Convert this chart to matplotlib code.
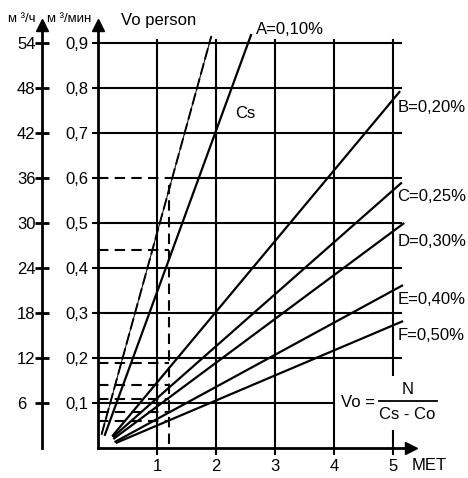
import matplotlib
matplotlib.use('Agg')
import matplotlib.pyplot as plt

plt.rcParams['font.family'] = ['Liberation Sans', 'DejaVu Sans']

# air volume per person, m3/min (left axis) vs metabolic rate, MET
met_ticks = [1, 2, 3, 4, 5]
vo_ticks = [0.1, 0.2, 0.3, 0.4, 0.5, 0.6, 0.7, 0.8, 0.9]
vo_labels = ['0,1', '0,2', '0,3', '0,4', '0,5', '0,6', '0,7', '0,8', '0,9']
vo_hour_ticks = [6, 12, 18, 24, 30, 36, 42, 48, 54]

# CO2 limit lines Cs: start/end points (MET, m3/min)
line_names = ['', 'A=0,10%', 'B=0,20%', 'C=0,25%', 'D=0,30%', 'E=0,40%', 'F=0,50%']
line_x0 = [0.06, 0.11, 0.24, 0.25, 0.26, 0.28, 0.30]
line_y0 = [0.030, 0.027, 0.026, 0.024, 0.020, 0.013, 0.011]
line_x1 = [1.92, 2.60, 5.12, 5.15, 5.19, 5.17, 5.17]
line_y1 = [0.915, 0.920, 0.793, 0.590, 0.500, 0.362, 0.282]
label_y = [None, 0.929, 0.756, 0.558, 0.458, 0.329, 0.251]

# reading at 1.2 MET
read_met = 1.2
read_vo = [0.6, 0.44, 0.19, 0.14, 0.11, 0.08, 0.06]

fs = 12

fig = plt.figure(figsize=(4.68, 4.78), dpi=100)
ax = fig.add_axes([98/468, 30/478, 312.7/468, 423/478])
ax.set_xlim(0, 5.3)
ax.set_ylim(0, 0.94)
for s in ['top', 'right']:
    ax.spines[s].set_visible(False)
for s in ['left', 'bottom']:
    ax.spines[s].set_linewidth(2)

ax.set_yticks(vo_ticks)
ax.set_yticklabels(vo_labels)
ax.tick_params(axis='y', direction='out', length=4, width=1.5, pad=3, labelsize=fs)
ax.set_xticks(met_ticks)
ax.set_xticklabels([str(m) for m in met_ticks])
ax.tick_params(axis='x', direction='out', length=5, width=1.5, pad=3, labelsize=fs)

lw = 1.5
# grid
for v in vo_ticks:
    if v == 0.1:
        ax.hlines(v, 0, 4, color='k', lw=lw)
    elif v == 0.6:
        ax.hlines(v, read_met, 5.15, color='k', lw=lw)
    else:
        ax.hlines(v, 0, 5.15, color='k', lw=lw)
for m in met_ticks:
    if m == 5:
        ax.vlines(m, 0, 0.04, color='k', lw=lw)
        ax.vlines(m, 0.16, 0.91, color='k', lw=lw)
    else:
        ax.vlines(m, 0, 0.91, color='k', lw=lw)

# readings
for v in read_vo:
    ax.plot([0, read_met], [v, v], color='k', lw=lw, ls=(0, (5, 3)))
ax.plot([read_met, read_met], [0.01, max(read_vo) - 0.015], color='k', lw=lw, ls=(0, (5, 3)))

# lines
for i in range(len(line_names)):
    xs = [line_x0[i], line_x1[i]]
    ys = [line_y0[i], line_y1[i]]
    if line_names[i] == '':
        ax.plot(xs, ys, color='k', lw=0.7)
        ax.plot(xs, ys, color='k', lw=1.4, ls=(0, (6, 2)))
    else:
        ax.plot(xs, ys, color='k', lw=1.6, solid_capstyle='butt')
        if i == 1:
            ax.text(line_x1[i] + 0.08, label_y[i], line_names[i], fontsize=fs, va='center', ha='left')
        else:
            ax.text(5.07, label_y[i], line_names[i], fontsize=fs, va='center', ha='left')

ax.text(2.32, 0.744, 'Cs', fontsize=fs, va='center', ha='left')

# formula
ax.text(4.4, 0.102, 'Vo =', fontsize=fs, va='center', ha='center')
ax.plot([4.76, 5.75], [0.104, 0.104], color='k', lw=1.3, clip_on=False)
ax.text(5.24, 0.130, 'N', fontsize=fs, va='center', ha='center')
ax.text(5.24, 0.075, 'Cs - Co', fontsize=fs, va='center', ha='center')
ax.text(5.32, -0.04, 'MET', fontsize=fs, va='center', ha='left', clip_on=False)

# arrows on axes
ax.plot([0], [1], marker='^', color='k', ms=9, transform=ax.transAxes, clip_on=False)
ax.plot([1], [0], marker='>', color='k', ms=9, transform=ax.transAxes, clip_on=False)

# m3/h axis
sec = ax.secondary_yaxis(-0.179, functions=(lambda v: v * 60, lambda v: v / 60))
sec.set_yticks(vo_hour_ticks)
sec.set_yticklabels([str(t) for t in vo_hour_ticks], ha='left')
sec.spines['left'].set_linewidth(2)
sec.tick_params(axis='y', direction='inout', length=10, width=2, pad=13, labelsize=fs)
ax.plot([-0.179], [1], marker='^', color='k', ms=9, transform=ax.transAxes, clip_on=False)

fig.text(8/468, 1 - 19/478, 'м ³/ч', fontsize=9.5, va='center', ha='left')
fig.text(47/468, 1 - 19/478, 'м ³/мин', fontsize=9.5, va='center', ha='left')
fig.text(121/468, 1 - 21/478, 'Vo person', fontsize=fs, va='center', ha='left')

fig.savefig('out.png', dpi=100)
